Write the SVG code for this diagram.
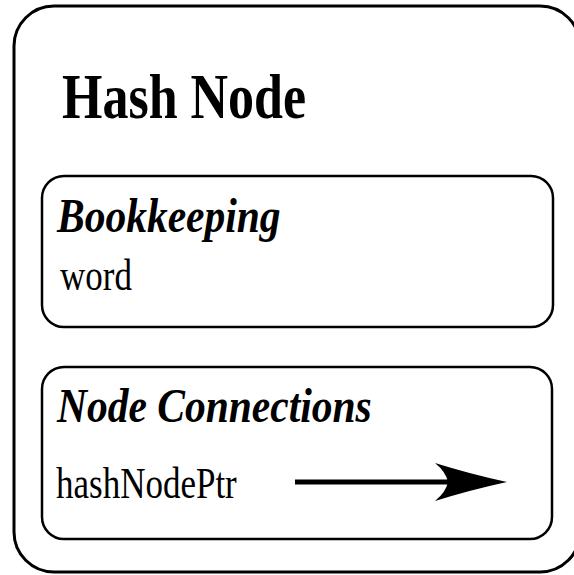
<svg xmlns="http://www.w3.org/2000/svg" width="574" height="575" viewBox="0 0 574 575">
  <style>
    .frame { fill: none; stroke: #000; stroke-width: 3; }
    .panel { fill: none; stroke: #000; stroke-width: 2.5; }
    .title { font-family: "Liberation Serif", "Times New Roman", serif; font-weight: bold; font-size: 52px; fill: #000; }
    .head { font-family: "Liberation Serif", "Times New Roman", serif; font-weight: bold; font-style: italic; font-size: 41.5px; fill: #000; }
    .field { font-family: "Liberation Serif", "Times New Roman", serif; font-size: 35px; fill: #000; }
  </style>
  <rect width="574" height="575" fill="#fff"/>

  <g id="hash-node">
    <rect class="frame" x="14" y="6" width="566" height="566" rx="40" ry="40"/>
    <text class="title" transform="translate(62,118) scale(1,1.2)">Hash Node</text>
  </g>

  <g id="bookkeeping">
    <rect class="panel" x="42" y="176" width="511" height="151" rx="22" ry="22"/>
    <text class="head" transform="translate(57,232) scale(1,1.16)">Bookkeeping</text>
    <text class="field" transform="translate(60,290) scale(1,1.25)">word</text>
  </g>

  <g id="node-connections">
    <rect class="panel" x="42" y="367" width="510" height="172" rx="22" ry="22"/>
    <text class="head" transform="translate(57,422) scale(1,1.16)">Node Connections</text>
    <text class="field" transform="translate(56,498) scale(1,1.25)">hashNodePtr</text>
  </g>

  <g id="connectors">
    <line x1="295" y1="482" x2="450" y2="482" stroke="#000" stroke-width="5"/>
    <path d="M507,482 Q470,474 435,463 Q446,472 448,482 Q446,492 435,501 Q470,490 507,482 Z" fill="#000"/>
  </g>
</svg>
